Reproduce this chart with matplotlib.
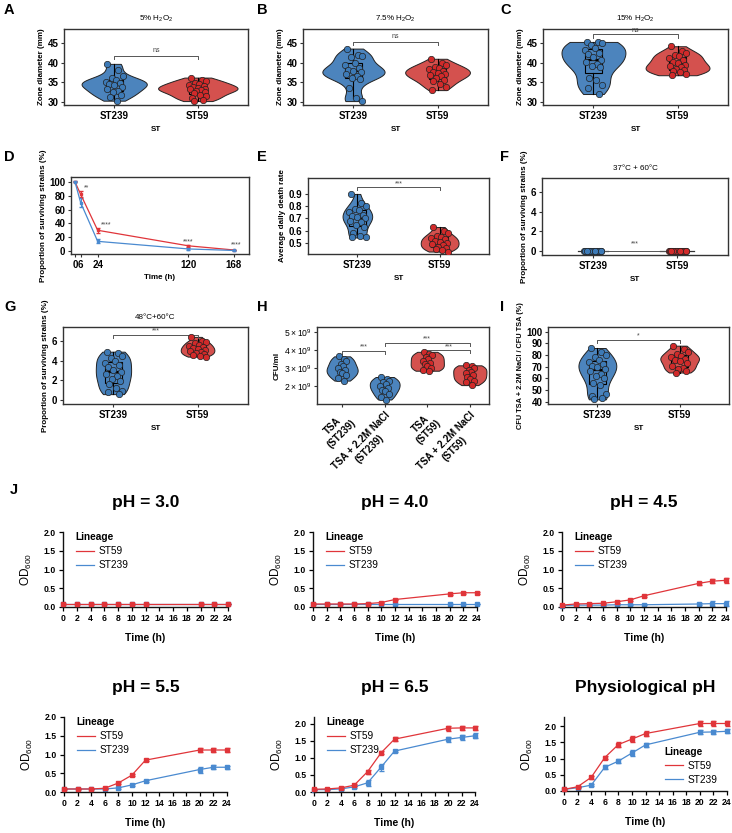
import numpy as np
import matplotlib
matplotlib.use('Agg')
import matplotlib.pyplot as plt
from matplotlib.lines import Line2D

plt.rcParams['font.family'] = ['Liberation Sans', 'DejaVu Sans']
plt.rcParams['mathtext.fontset'] = 'custom'
plt.rcParams['mathtext.rm'] = 'Liberation Sans'

# ---------------- DATA ----------------
st_labels = ['ST239', 'ST59']

A_st239 = [39.7, 38.2, 36.5, 36.0, 35.5, 35.0, 34.8, 34.6, 34.3, 33.8, 33.3, 32.9, 32.4, 31.8, 31.3, 30.3]
A_st59 = [36.2, 35.6, 35.3, 34.9, 34.6, 34.3, 34.0, 33.8, 33.6, 33.4, 33.2, 33.0, 32.8, 32.5, 32.2, 31.8, 31.4, 31.0, 30.6, 30.2]
B_st239 = [43.6, 42.0, 41.6, 41.4, 39.8, 39.3, 38.6, 38.2, 37.8, 37.5, 37.0, 36.6, 36.1, 35.8, 33.6, 31.1, 30.2]
B_st59 = [41.0, 40.0, 39.5, 39.0, 38.6, 38.3, 38.0, 37.7, 37.4, 37.1, 36.8, 36.5, 36.1, 35.7, 35.2, 34.5, 33.9, 33.0]
C_st239 = [45.3, 45.2, 45.0, 44.6, 43.8, 43.2, 42.6, 42.1, 41.5, 40.6, 40.1, 39.6, 39.1, 38.8, 36.0, 35.5, 34.2, 33.5, 32.0]
C_st59 = [44.2, 43.0, 42.4, 42.0, 41.6, 41.2, 40.7, 40.2, 39.8, 39.4, 39.1, 38.8, 38.4, 38.1, 37.8, 37.5, 37.2, 36.8]

D_time = [0, 6, 24, 120, 168]
D_st59 = [100, 82, 30, 7.5, 1.5]
D_st59_err = [0.5, 4.5, 3.5, 1.5, 0.5]
D_st239 = [100, 70, 14, 3.0, 0.8]
D_st239_err = [0.5, 6.0, 3.0, 1.0, 0.3]
D_sig = ['**', '****', '****', '****']

E_st239 = [0.90, 0.83, 0.80, 0.78, 0.77, 0.75, 0.73, 0.72, 0.71, 0.70, 0.68, 0.67, 0.65, 0.63, 0.58, 0.56, 0.55, 0.545]
E_st59 = [0.63, 0.60, 0.58, 0.56, 0.55, 0.54, 0.53, 0.52, 0.51, 0.50, 0.49, 0.48, 0.47, 0.46, 0.45, 0.44, 0.43]

F_st239 = [0, 0, 0, 0, 0, 0, 0, 0, 0, 0, 0, 0, 0, 0, 0, 0, 0, 0]
F_st59 = [0, 0, 0, 0, 0, 0, 0, 0, 0, 0, 0, 0, 0, 0, 0, 0, 0, 0]

G_st239 = [4.9, 4.8, 4.5, 4.3, 4.0, 3.8, 3.6, 3.3, 3.0, 2.8, 2.6, 2.4, 2.1, 1.9, 1.6, 1.2, 0.9, 0.8, 0.6]
G_st59 = [6.4, 6.0, 5.9, 5.8, 5.6, 5.5, 5.4, 5.3, 5.2, 5.1, 5.0, 4.9, 4.8, 4.7, 4.6, 4.5, 4.4]

H_labels = ['TSA\n(ST239)', 'TSA + 2.2M NaCl\n(ST239)', 'TSA\n(ST59)', 'TSA + 2.2M NaCl\n(ST59)']
# CFU/ml in units of 10^9
H_tsa_st239 = [3.65, 3.5, 3.4, 3.25, 3.1, 3.0, 2.9, 2.8, 2.7, 2.6, 2.45, 2.3]
H_nacl_st239 = [2.5, 2.4, 2.3, 2.2, 2.1, 2.0, 1.9, 1.8, 1.7, 1.55, 1.4, 1.25]
H_tsa_st59 = [3.9, 3.8, 3.7, 3.6, 3.5, 3.4, 3.3, 3.2, 3.1, 3.0, 2.9, 2.85]
H_nacl_st59 = [3.15, 3.1, 3.0, 2.9, 2.8, 2.7, 2.6, 2.5, 2.4, 2.3, 2.2, 2.05]
H_yticks = [2, 3, 4, 5]

I_st239 = [86, 83, 80, 78, 76, 74, 72, 71, 70, 68, 66, 64, 62, 60, 56, 54, 47, 45, 43, 42]
I_st59 = [88, 85, 83, 81, 79, 78, 77, 76, 75, 73, 71, 69, 68, 66, 65]

J_time = [0, 2, 4, 6, 8, 10, 12, 20, 22, 24]
J_titles = ['pH = 3.0', 'pH = 4.0', 'pH = 4.5', 'pH = 5.5', 'pH = 6.5', 'Physiological pH']
J_st59 = [
    [0.08, 0.08, 0.08, 0.08, 0.08, 0.08, 0.08, 0.08, 0.08, 0.08],
    [0.08, 0.08, 0.08, 0.08, 0.09, 0.12, 0.20, 0.35, 0.38, 0.38],
    [0.05, 0.08, 0.09, 0.10, 0.14, 0.19, 0.30, 0.63, 0.69, 0.71],
    [0.08, 0.08, 0.08, 0.10, 0.24, 0.45, 0.85, 1.12, 1.12, 1.12],
    [0.08, 0.09, 0.12, 0.20, 0.60, 1.15, 1.55, 1.87, 1.88, 1.88],
    [0.05, 0.13, 0.42, 1.03, 1.43, 1.60, 1.77, 2.08, 2.08, 2.08],
]
J_st59_err = [
    [0.005, 0.005, 0.005, 0.005, 0.005, 0.005, 0.005, 0.005, 0.005, 0.005],
    [0.005, 0.005, 0.005, 0.005, 0.01, 0.01, 0.02, 0.03, 0.02, 0.02],
    [0.01, 0.01, 0.01, 0.01, 0.02, 0.02, 0.02, 0.05, 0.06, 0.06],
    [0.01, 0.01, 0.01, 0.01, 0.02, 0.03, 0.03, 0.06, 0.06, 0.06],
    [0.01, 0.01, 0.02, 0.03, 0.06, 0.04, 0.05, 0.07, 0.07, 0.07],
    [0.01, 0.02, 0.05, 0.04, 0.07, 0.08, 0.09, 0.07, 0.07, 0.07],
]
J_st239 = [
    [0.08, 0.08, 0.08, 0.08, 0.08, 0.08, 0.08, 0.08, 0.08, 0.08],
    [0.08, 0.08, 0.08, 0.08, 0.08, 0.08, 0.08, 0.08, 0.08, 0.08],
    [0.04, 0.05, 0.05, 0.05, 0.06, 0.06, 0.06, 0.08, 0.09, 0.09],
    [0.08, 0.08, 0.08, 0.08, 0.11, 0.19, 0.30, 0.60, 0.66, 0.66],
    [0.07, 0.07, 0.09, 0.15, 0.27, 0.73, 1.20, 1.55, 1.60, 1.65],
    [0.05, 0.10, 0.18, 0.73, 0.92, 1.17, 1.42, 1.81, 1.82, 1.84],
]
J_st239_err = [
    [0.005, 0.005, 0.005, 0.005, 0.005, 0.005, 0.005, 0.005, 0.005, 0.005],
    [0.005, 0.005, 0.005, 0.005, 0.005, 0.005, 0.005, 0.005, 0.005, 0.005],
    [0.01, 0.01, 0.01, 0.01, 0.01, 0.01, 0.01, 0.03, 0.06, 0.06],
    [0.01, 0.01, 0.01, 0.01, 0.02, 0.02, 0.03, 0.08, 0.05, 0.04],
    [0.01, 0.01, 0.02, 0.03, 0.09, 0.10, 0.04, 0.07, 0.08, 0.08],
    [0.01, 0.02, 0.03, 0.06, 0.07, 0.08, 0.06, 0.06, 0.06, 0.06],
]

# ---------------- STYLE ----------------
W, H = 732, 833
fig = plt.figure(figsize=(W / 100, H / 100), dpi=100)

BLUE_FILL = '#4c84bd'
RED_FILL = '#d4514e'
BLUE_PT = '#3d7ab6'
RED_PT = '#d12a2a'
BLUE_LINE = '#4a8ad0'
RED_LINE = '#e0353a'
SPINE = '#333333'

JIT = [-0.08, 0.05, 0.1, -0.03, 0.02, -0.1, 0.07, -0.06, 0.0, 0.09,
       -0.09, 0.04, -0.02, 0.08, -0.05, 0.03, 0.1, -0.07, 0.06, -0.04]


def axpx(l, t, r, b):
    return fig.add_axes([l / W, 1 - b / H, (r - l) / W, (b - t) / H])


def style_box_axes(ax, labelsize=7):
    for s in ax.spines.values():
        s.set_color(SPINE)
        s.set_linewidth(1.0)
    ax.tick_params(axis='both', direction='out', length=2.5, width=0.8,
                   labelsize=labelsize, pad=1.5, color=SPINE)
    for lab in ax.get_xticklabels() + ax.get_yticklabels():
        lab.set_fontweight('bold')


def bracket(ax, x1, x2, y, text, tip, dy, fs=5):
    ax.plot([x1, x1, x2, x2], [y - tip, y, y, y - tip], color='#555555', lw=0.7)
    ax.text((x1 + x2) / 2, y + dy, text, ha='center', va='bottom',
            fontsize=fs, color='#444444')


def nrd0_factor(vals):
    # ggplot-like (nrd0) bandwidth expressed as a factor of the std
    sd = np.std(vals, ddof=1)
    q75, q25 = np.percentile(vals, [75, 25])
    s = min(sd, (q75 - q25) / 1.34) if q75 > q25 else sd
    return 0.9 * s / sd * len(vals) ** (-0.2)


def violins(ax, groups, fills, ptcols, widths, box=True):
    for i, vals in enumerate(groups):
        vals = np.asarray(vals, float)
        p = i + 1
        if np.ptp(vals) == 0:
            ax.plot([p - widths[i] / 2, p + widths[i] / 2], [vals[0], vals[0]],
                    color='#333333', lw=0.9, zorder=1)
        else:
            vp = ax.violinplot([vals], positions=[p], widths=widths[i],
                               showextrema=False, showmeans=False, showmedians=False,
                               bw_method=nrd0_factor(vals))
            for b in vp['bodies']:
                b.set_facecolor(fills[i])
                b.set_edgecolor('#222222')
                b.set_linewidth(0.7)
                b.set_alpha(1)
        if box:
            ax.boxplot([vals], positions=[p], widths=0.2, showfliers=False,
                       patch_artist=True, manage_ticks=False,
                       boxprops=dict(facecolor='none', edgecolor='black', linewidth=0.8),
                       whiskerprops=dict(color='black', linewidth=0.8),
                       capprops=dict(linewidth=0),
                       medianprops=dict(color='black', linewidth=1.6))
        xs = p + np.array([JIT[k % len(JIT)] for k in range(len(vals))])
        ax.scatter(xs, vals, s=21, c=ptcols[i], edgecolors='#222222',
                   linewidths=0.5, zorder=3)


def two_group_panel(ax, g1, g2, widths, ylim, yticks, ylabel, title=None,
                    br=None, box=True, ylab_fs=5.8):
    violins(ax, [g1, g2], [BLUE_FILL, RED_FILL], [BLUE_PT, RED_PT], widths, box=box)
    ax.set_xlim(0.4, 2.6)
    ax.set_ylim(*ylim)
    ax.set_yticks(yticks)
    ax.set_xticks([1, 2])
    ax.set_xticklabels(st_labels)
    ax.set_xlabel('ST', fontsize=5.8, fontweight='bold', labelpad=4)
    ax.set_ylabel(ylabel, fontsize=ylab_fs, fontweight='bold', labelpad=2)
    if title:
        ax.set_title(title, fontsize=5.8, pad=6)
    if br:
        bracket(ax, 1, 2, *br)
    style_box_axes(ax)


def letter(x, y, s):
    fig.text(x / W, 1 - y / H, s, fontsize=10.5, fontweight='bold', ha='left', va='center')


# ---------------- ROW 1: A B C ----------------
zl = (29.2, 48.6)
zt = [30, 35, 40, 45]
axA = axpx(64, 29, 248, 105)
two_group_panel(axA, A_st239, A_st59, [0.78, 0.95], zl, zt, 'Zone diameter (mm)',
                r'5% H$_2$O$_2$', br=(41.7, 'ns', 0.8, 0.4))
axB = axpx(303, 29, 488, 105)
two_group_panel(axB, B_st239, B_st59, [0.74, 0.77], zl, zt, 'Zone diameter (mm)',
                r'7.5% H$_2$O$_2$', br=(45.4, 'ns', 0.8, 0.4))
axC = axpx(543, 29, 728, 105)
two_group_panel(axC, C_st239, C_st59, [0.76, 0.76], zl, zt, 'Zone diameter (mm)',
                r'15% H$_2$O$_2$', br=(47.2, 'ns', 0.8, 0.2))
letter(4, 10, 'A')
letter(257, 10, 'B')
letter(500, 10, 'C')

# ---------------- ROW 2: D E F ----------------
axD = axpx(71, 177, 249, 254)
axD.errorbar(D_time, D_st59, yerr=D_st59_err, color=RED_LINE, lw=0.9, marker='s',
             ms=2, capsize=1.5, elinewidth=0.7)
axD.errorbar(D_time, D_st239, yerr=D_st239_err, color=BLUE_LINE, lw=0.9, marker='s',
             ms=2, capsize=1.5, elinewidth=0.7)
axD.set_xlim(-4.2, 184)
axD.set_ylim(-4.3, 107)
axD.set_xticks(D_time)
axD.set_yticks([0, 20, 40, 60, 80, 100])
sig_pos = [(12, 91), (33, 37.5), (120, 13), (170, 9)]
for (sx, sy), s in zip(sig_pos, D_sig):
    axD.text(sx, sy, s, ha='center', va='center', fontsize=5, color='#444444')
axD.set_xlabel('Time (h)', fontsize=5.8, fontweight='bold', labelpad=3)
axD.set_ylabel('Proportion of surviving strains (%)', fontsize=5.8, fontweight='bold', labelpad=2)
style_box_axes(axD)

axE = axpx(308, 178, 489, 254)
two_group_panel(axE, E_st239, E_st59, [0.36, 0.46], (0.41, 1.03),
                [0.5, 0.6, 0.7, 0.8, 0.9], 'Average daily death rate',
                br=(0.955, '***', 0.02, 0.0))
axF = axpx(542, 178, 728, 255)
two_group_panel(axF, F_st239, F_st59, [0.36, 0.40], (-0.4, 7.4), [0, 2, 4, 6],
                'Proportion of surviving strains (%)', '37°C + 60°C',
                br=(0.05, '***', 0.15, 0.35))
letter(4, 157, 'D')
letter(257, 157, 'E')
letter(500, 157, 'F')

# ---------------- ROW 3: G H I ----------------
axG = axpx(63, 327, 248, 404)
two_group_panel(axG, G_st239, G_st59, [0.42, 0.40], (-0.4, 7.4), [0, 2, 4, 6],
                'Proportion of surviving strains (%)', '48°C+60°C',
                br=(6.6, '***', 0.3, 0.1))

axH = axpx(317, 327, 489, 404)
violins(axH, [H_tsa_st239, H_nacl_st239, H_tsa_st59, H_nacl_st59],
        [BLUE_FILL, BLUE_FILL, RED_FILL, RED_FILL],
        [BLUE_PT, BLUE_PT, RED_PT, RED_PT], [0.73, 0.70, 0.78, 0.78], box=False)
axH.set_xlim(0.41, 4.45)
axH.set_ylim(1.0, 5.28)
axH.set_yticks(H_yticks)
axH.set_yticklabels([r'$%d\times10^9$' % v for v in H_yticks])
axH.set_xticks([1, 2, 3, 4])
axH.set_xticklabels(H_labels, rotation=45, ha='right', rotation_mode='anchor',
                    multialignment='center')
axH.set_ylabel('CFU/ml', fontsize=5.8, fontweight='bold', labelpad=2)
bracket(axH, 1, 2, 3.95, '***', 0.15, 0.02)
bracket(axH, 2, 4, 4.4, '***', 0.15, 0.02)
bracket(axH, 3, 4, 3.98, '***', 0.12, 0.02)
style_box_axes(axH)
for lab in axH.get_yticklabels():
    lab.set_fontweight('normal')
    lab.set_fontsize(6.2)

axI = axpx(548, 327, 729, 404)
two_group_panel(axI, I_st239, I_st59, [0.46, 0.47], (38, 104),
                [40, 50, 60, 70, 80, 90, 100], 'CFU TSA + 2.2M NaCl / CFU TSA (%)',
                br=(93, '*', 2.5, 0.5), ylab_fs=5.3)
letter(4, 307, 'G')
letter(257, 307, 'H')
letter(500, 307, 'I')

# ---------------- ROW 4-5: J ----------------
J_axes = [(63, 532, 228, 607), (313, 532, 477, 607), (562, 532, 726, 607),
          (64, 717, 227, 792), (314, 717, 475, 792), (564, 717, 727, 791)]
J_ylims = [(0, 2.0), (0, 2.0), (0, 2.0), (0, 2.0), (0, 2.2), (0, 2.28)]
for k in range(6):
    ax = axpx(*J_axes[k])
    ax.errorbar(J_time, J_st59[k], yerr=J_st59_err[k], color=RED_LINE, lw=0.9,
                marker='s', ms=2.2, capsize=1.8, elinewidth=0.7, clip_on=False,
                label='ST59', zorder=3)
    ax.errorbar(J_time, J_st239[k], yerr=J_st239_err[k], color=BLUE_LINE, lw=0.9,
                marker='s', ms=2.2, capsize=1.8, elinewidth=0.7, clip_on=False,
                label='ST239', zorder=2)
    ax.set_xlim(0, 24)
    ax.set_ylim(*J_ylims[k])
    ax.set_xticks(range(0, 25, 2))
    ax.set_yticks([0, 0.5, 1.0, 1.5, 2.0])
    ax.set_yticklabels(['0.0', '0.5', '1.0', '1.5', '2.0'])
    ax.spines['top'].set_visible(False)
    ax.spines['right'].set_visible(False)
    for s in ['left', 'bottom']:
        ax.spines[s].set_linewidth(1.0)
        ax.spines[s].set_color('#111111')
    ax.tick_params(direction='out', length=3, width=0.9, labelsize=6.2, pad=2)
    for lab in ax.get_xticklabels() + ax.get_yticklabels():
        lab.set_fontweight('bold')
    ax.set_xlabel('Time (h)', fontsize=7.5, fontweight='bold', labelpad=7)
    ax.set_ylabel(r'OD$_{600}$', fontsize=8.5, labelpad=7)
    ax.set_title(J_titles[k], fontsize=12.5, fontweight='bold', pad=18)
    handles = [Line2D([], [], color=RED_LINE, lw=0.9), Line2D([], [], color=BLUE_LINE, lw=0.9)]
    if k == 5:
        anchor = (0.58, 0.68)
    else:
        anchor = (0.04, 1.08)
    leg = ax.legend(handles, ['ST59', 'ST239'], title='Lineage', loc='upper left',
                    bbox_to_anchor=anchor, frameon=False, fontsize=7.3,
                    handlelength=1.8, labelspacing=0.4, borderaxespad=0.2,
                    handletextpad=0.5, alignment='left')
    leg.get_title().set_fontweight('bold')
    leg.get_title().set_fontsize(7.3)
letter(10, 490, 'J')

fig.savefig('out.png', dpi=100)
